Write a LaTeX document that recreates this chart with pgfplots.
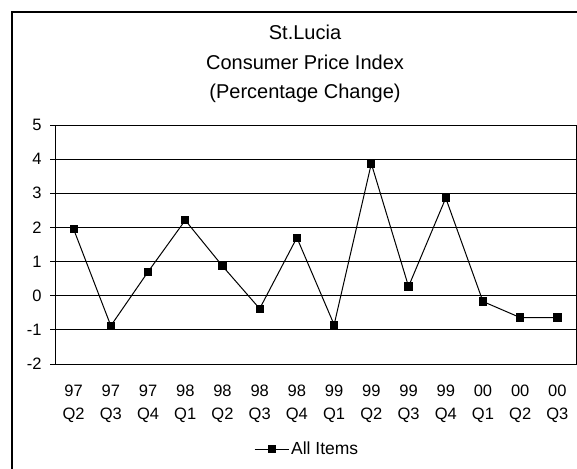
\documentclass[border=0pt]{standalone}
\usepackage{pgfplots}
\pgfplotsset{compat=1.18}
\usepackage{fontspec}
\setmainfont{Liberation Sans}

\pgfplotstableread{
q    v
0    1.95
1   -0.88
2    0.70
3    2.21
4    0.87
5   -0.38
6    1.70
7   -0.85
8    3.87
9    0.27
10   2.86
11  -0.17
12  -0.64
13  -0.64
}\cpidata

\begin{document}
\begin{tikzpicture}[x=1pt,y=1pt]
\useasboundingbox (0,0) rectangle (577,468);
% chart frame
\begin{scope}
\clip (0,0) rectangle (577,468);
\draw[line width=2.8pt] (12,-20) |- (620,456);
\end{scope}
% title
\node[anchor=base,font=\fontsize{20}{23}\selectfont] at (305,428) {St.Lucia};
\node[anchor=base,font=\fontsize{20}{23}\selectfont] at (305,398) {Consumer Price Index};
\node[anchor=base,font=\fontsize{20}{23}\selectfont] at (305,369) {(Percentage Change)};
\begin{axis}[
  at={(55pt,104pt)}, anchor=south west,
  width=521pt, height=239pt, scale only axis,
  xmin=-0.5, xmax=13.5, ymin=-2, ymax=5,
  ytick={-2,...,5},
  xtick={0,...,13},
  xticklabels={{97\\Q2},{97\\Q3},{97\\Q4},{98\\Q1},{98\\Q2},{98\\Q3},{98\\Q4},{99\\Q1},{99\\Q2},{99\\Q3},{99\\Q4},{00\\Q1},{00\\Q2},{00\\Q3}},
  axis line style={black, line width=1pt},
  ymajorgrids, grid style={black, line width=1pt},
  tick style={black, line width=1pt},
  ytick pos=left, xtick pos=bottom,
  tick align=outside,
  major tick length=5pt,
  x tick style={draw=none},
  /pgf/number format/assume math mode=true,
  yticklabel style={font=\fontsize{16.5}{19}\selectfont, xshift=-5pt},
  xticklabel style={font=\fontsize{16.5}{23}\selectfont, align=center, yshift=-12pt},
  legend style={draw=none, fill=none, font=\fontsize{17.5}{20}\selectfont,
    at={(axis description cs:0.484,-0.356)}, anchor=center,
    inner sep=0pt, legend cell align=left},
  legend image code/.code={%
    \draw[mark repeat=2, mark phase=2, #1] plot coordinates {(0pt,0pt) (17pt,0pt) (34pt,0pt)};},
]
\addplot[black, line width=1pt, mark=square*, mark size=3.6pt,
  mark options={solid, fill=black}] table[x=q, y=v] {\cpidata};
\addlegendentry{All Items}
\end{axis}
\end{tikzpicture}
\end{document}
